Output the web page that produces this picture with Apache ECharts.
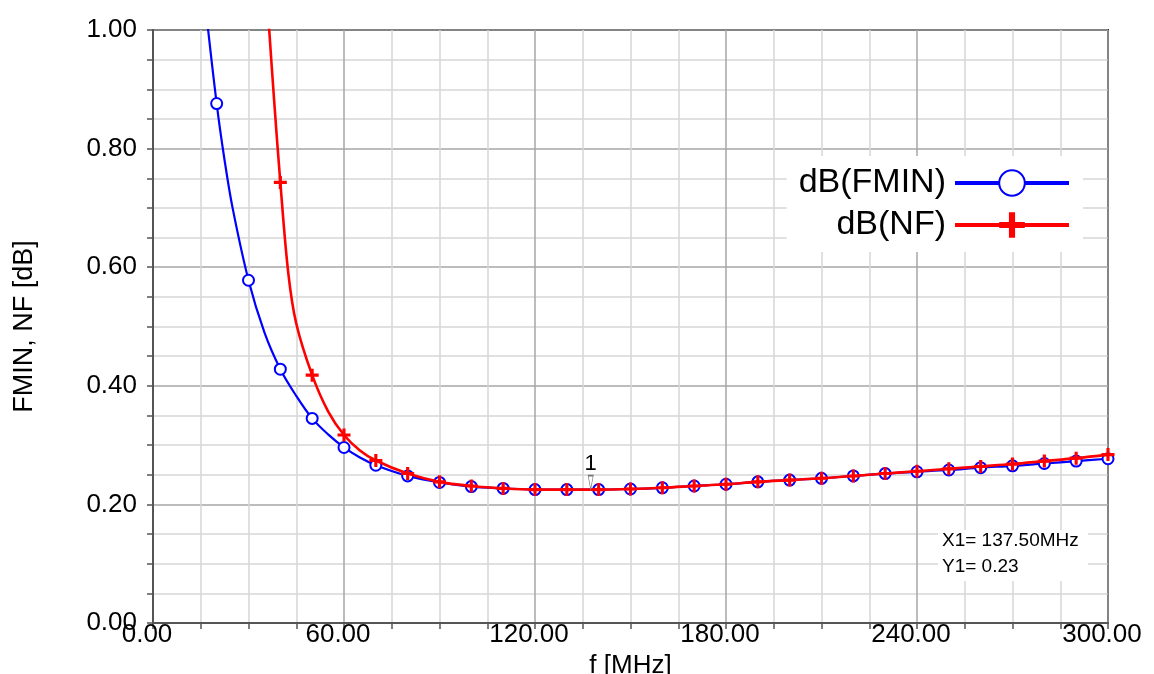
<!DOCTYPE html>
<html>
<head>
<meta charset="utf-8">
<script src="https://cdn.jsdelivr.net/npm/echarts@6/dist/echarts.min.js"></script>
<style>
html,body{margin:0;padding:0;background:#fff;}
#chart{width:1154px;height:674px;}
</style>
</head>
<body>
<div id="chart"></div>
<script>
// ---- data ----
const markerFreqs = [20,30,40,50,60,70,80,90,100,110,120,130,140,150,160,170,180,190,200,210,220,230,240,250,260,270,280,290,300];
const fminAtMarkers = [0.876,0.578,0.428,0.345,0.296,0.266,0.248,0.237,0.230,0.227,0.225,0.225,0.225,0.226,0.228,0.231,0.234,0.238,0.241,0.244,0.248,0.252,0.255,0.258,0.262,0.265,0.269,0.273,0.277];
// extra points along the blue curve (drawn without marker)
const fminCurveFreqs = [16.5,22.5,25,35,45,55,65];
const fminCurveVals  = [1.04,0.78,0.70,0.49,0.383,0.318,0.279];

const nfMarkerFreqs = [40,50,60,70,80,90,100,110,120,130,140,150,160,170,180,190,200,210,220,230,240,250,260,270,280,290,300];
const nfAtMarkers = [0.743,0.418,0.317,0.274,0.252,0.238,0.231,0.227,0.225,0.225,0.225,0.226,0.228,0.231,0.234,0.238,0.241,0.244,0.248,0.252,0.256,0.260,0.264,0.268,0.273,0.278,0.284];
const nfCurveFreqs = [36,38,42.5,45,55,65];
const nfCurveVals  = [1.04,0.885,0.59,0.505,0.357,0.291];

const seriesNames = ['dB(FMIN)','dB(NF)'];
const markerLabel = '1';
const markerFreq = 137.5;
const markerValue = 0.225;
const readoutX = 'X1= 137.50MHz';
const readoutY = 'Y1= 0.23';
const xName = 'f [MHz]';
const yName = 'FMIN, NF [dB]';

function buildData(mf, mv, cf, cv){
  const pts = [];
  mf.forEach((f,i)=>pts.push({value:[f, mv[i]]}));
  cf.forEach((f,i)=>pts.push({value:[f, cv[i]], symbol:'none'}));
  pts.sort((a,b)=>a.value[0]-b.value[0]);
  return pts;
}

const crossPath = 'path://M3.8,0 L6.2,0 L6.2,3.8 L10,3.8 L10,6.2 L6.2,6.2 L6.2,10 L3.8,10 L3.8,6.2 L0,6.2 L0,3.8 L3.8,3.8 Z';
const FONT = '"Liberation Sans", Arial, sans-serif';

const chart = echarts.init(document.getElementById('chart'), null, {renderer:'canvas'});
chart.setOption({
  animation:false,
  backgroundColor:'#fff',
  grid:{left:153, right:46, top:30, bottom:51, outerBoundsMode:'none', containLabel:false,
        show:true, borderColor:'#222', borderWidth:2, backgroundColor:'transparent'},
  xAxis:{
    type:'value', min:0, max:300, interval:60,
    name:xName, nameLocation:'middle', nameGap:20,
    nameTextStyle:{fontSize:26, color:'#000', fontFamily:FONT},
    axisLine:{show:true, lineStyle:{color:'#555', width:2}},
    axisTick:{show:true, inside:false, length:6, lineStyle:{color:'#555', width:1.5}},
    minorTick:{show:true, splitNumber:4, length:6, lineStyle:{color:'#555', width:1.5}},
    axisLabel:{fontSize:26, color:'#000', fontFamily:FONT, margin:-1, padding:[0,12,0,0],
      formatter:v=>v.toFixed(2)},
    splitLine:{show:true, lineStyle:{color:'#a6a6a6', width:1.5}},
    minorSplitLine:{show:true, lineStyle:{color:'#d6d6d6', width:1.5}}
  },
  yAxis:{
    type:'value', min:0, max:1, interval:0.2,
    name:yName, nameLocation:'middle', nameGap:115,
    nameTextStyle:{fontSize:27, color:'#000', fontFamily:FONT},
    axisLine:{show:true, lineStyle:{color:'#555', width:2}},
    axisTick:{show:true, inside:false, length:6, lineStyle:{color:'#555', width:1.5}},
    minorTick:{show:true, splitNumber:4, length:6, lineStyle:{color:'#555', width:1.5}},
    axisLabel:{fontSize:26, color:'#000', fontFamily:FONT, margin:16, padding:[0,0,12,0],
      formatter:v=>v.toFixed(2)},
    splitLine:{show:true, lineStyle:{color:'#a6a6a6', width:1.5}},
    minorSplitLine:{show:true, lineStyle:{color:'#d6d6d6', width:1.5}}
  },
  legend:{
    orient:'vertical', align:'right', right:71, top:156,
    backgroundColor:'#fff', padding:[10,12,10,12],
    itemWidth:114, itemHeight:32, itemGap:8,
    textStyle:{fontSize:34, color:'#000', fontFamily:FONT, padding:[0,4,0,0]},
    lineStyle:{width:4},
    data:seriesNames
  },
  series:[
    {
      name:seriesNames[0], type:'line', smooth:0.35,
      data:buildData(markerFreqs, fminAtMarkers, fminCurveFreqs, fminCurveVals),
      symbol:'emptyCircle', symbolSize:11, showAllSymbol:true,
      lineStyle:{color:'#0000ff', width:2.2},
      itemStyle:{color:'#0000ff', borderColor:'#0000ff', borderWidth:2.5},
      clip:true, z:2
    },
    {
      name:seriesNames[1], type:'line', smooth:0.35,
      data:buildData(nfMarkerFreqs, nfAtMarkers, nfCurveFreqs, nfCurveVals),
      symbol:crossPath, symbolSize:13, showAllSymbol:true,
      lineStyle:{color:'#ff0000', width:2.6},
      itemStyle:{color:'#ff0000'},
      clip:true, z:3,
      markPoint:{
        symbol:'path://M0,0 L2,0 L1,6 Z', symbolSize:[5,14], symbolOffset:[0,-7],
        itemStyle:{color:'#fff', borderColor:'#777', borderWidth:1},
        label:{show:true, position:'top', distance:0, formatter:markerLabel, fontSize:22, color:'#000', fontFamily:FONT},
        data:[{coord:[markerFreq, markerValue]}]
      }
    }
  ],
  graphic:[
    {type:'rect', left:938, top:530, shape:{width:150, height:51}, style:{fill:'#fff'}, z:10},
    {type:'text', left:942, top:531, style:{text:readoutX, font:'19px '+FONT, fill:'#000'}, z:11},
    {type:'text', left:942, top:557, style:{text:readoutY, font:'19px '+FONT, fill:'#000'}, z:11}
  ]
});
</script>
</body>
</html>
